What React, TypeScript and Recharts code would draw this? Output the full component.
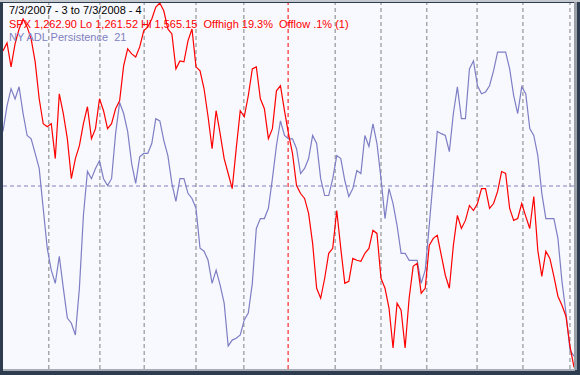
import React from 'react';
import { LineChart, Line, XAxis, YAxis, ReferenceLine } from 'recharts';

// SPX closes, sampled about every second trading day, 7/3/2007 .. 7/3/2008
const spx = [
  1525.4, 1532.0, 1512.2, 1531.2, 1543.6, 1551.9, 1545.3, 1535.3, 1516.3, 1485.7,
  1465.0, 1462.5, 1465.0, 1436.1, 1489.8, 1473.3, 1452.6, 1419.5, 1436.1, 1446.8,
  1465.0, 1479.1, 1452.6, 1460.9, 1485.7, 1475.8, 1460.9, 1465.0, 1477.4, 1484.0,
  1513.0, 1527.1, 1522.9, 1520.4, 1528.7, 1542.0, 1545.3, 1551.9, 1561.8, 1565.15,
  1558.5, 1543.6, 1539.5, 1510.5, 1517.1, 1516.3, 1533.7, 1543.6, 1512.2, 1508.9,
  1494.0, 1470.8, 1444.3, 1475.8, 1456.7, 1436.1, 1423.7, 1411.2, 1444.3, 1475.8,
  1470.8, 1488.2, 1510.5, 1512.2, 1485.7, 1477.4, 1452.6, 1460.9, 1492.3, 1496.5,
  1475.8, 1456.7, 1440.2, 1413.7, 1407.1, 1403.0, 1390.6, 1365.7, 1328.5, 1320.2,
  1336.8, 1357.5, 1361.6, 1393.0, 1361.6, 1332.6, 1334.3, 1353.3, 1351.7, 1350.8,
  1357.5, 1361.6, 1376.5, 1374.0, 1336.8, 1328.5, 1312.0, 1278.9, 1316.1, 1310.3,
  1278.9, 1320.2, 1346.7, 1349.2, 1324.4, 1328.5, 1364.1, 1369.9, 1372.4, 1355.8,
  1339.3, 1328.5, 1364.1, 1388.9, 1378.1, 1384.8, 1397.2, 1393.0, 1398.8, 1411.2,
  1411.2, 1394.7, 1398.8, 1408.8, 1425.3, 1423.7, 1394.7, 1384.8, 1386.4, 1398.8,
  1388.1, 1378.1, 1404.6, 1359.9, 1338.4, 1359.1, 1353.3, 1338.4, 1321.9, 1314.4,
  1305.3, 1280.5, 1262.9,
];

// NY ADL Persistence 21
const persistence = [
  64.9, 71.9, 76.6, 73.8, 77.1, 69.8, 63.8, 62.9, 58.9, 54.8,
  43.9, 33.0, 27.0, 23.4, 30.8, 22.1, 13.9, 12.5, 9.3, 22.1,
  42.0, 54.0, 52.0, 54.8, 56.9, 52.0, 50.1, 52.0, 64.3, 72.8,
  69.8, 64.9, 56.1, 50.7, 58.0, 58.9, 58.9, 61.6, 68.4, 67.8,
  62.4, 58.3, 50.7, 45.8, 52.0, 52.0, 48.0, 46.6, 43.9, 33.0,
  32.2, 29.7, 23.4, 27.0, 22.9, 18.0, 6.3, 7.9, 8.4, 9.3,
  13.4, 15.3, 23.4, 38.4, 41.1, 41.1, 43.9, 52.0, 61.0, 67.8,
  63.8, 62.9, 62.9, 60.2, 53.4, 54.8, 57.5, 63.8, 61.6, 52.0,
  47.4, 47.4, 52.0, 58.3, 57.5, 51.5, 47.1, 49.3, 54.2, 53.4,
  63.8, 60.8, 67.0, 61.6, 52.0, 41.1, 49.3, 45.2, 39.2, 31.6,
  31.6, 29.7, 29.7, 29.7, 23.4, 27.0, 39.2, 52.0, 64.9, 64.3,
  63.8, 59.4, 69.8, 77.1, 68.4, 68.4, 82.0, 84.2, 77.4, 75.2,
  75.7, 77.4, 81.5, 86.6, 86.6, 86.6, 82.0, 74.7, 69.8, 77.1,
  75.2, 65.7, 63.8, 58.3, 48.0, 41.1, 41.1, 41.1, 35.7, 24.0,
  15.3, 5.2, 3.5,
];

// first sample of each month (fractional sample index)
const monthStarts = [
  { m: 'Aug', at: 11.4 },
  { m: 'Sep', at: 24.1 },
  { m: 'Oct', at: 35.1 },
  { m: 'Nov', at: 48.0 },
  { m: 'Dec', at: 59.9 },
  { m: 'Jan', at: 70.9, newYear: true },
  { m: 'Feb', at: 82.6 },
  { m: 'Mar', at: 94.0 },
  { m: 'Apr', at: 105.4 },
  { m: 'May', at: 117.9 },
  { m: 'Jun', at: 129.3 },
  { m: 'Jul', at: 141.0 },
];

const spxLo = 1261.52;
const spxHi = 1565.15;

const data = spx.map((v, i) => ({ i, spx: v, adl: persistence[i] }));

const txt: React.CSSProperties = {
  position: 'absolute',
  left: 6,
  fontFamily: '"Liberation Sans", Arial, sans-serif',
  fontSize: 11,
  whiteSpace: 'pre',
  lineHeight: '13px',
};

export default function App() {
  return (
    <div style={{ position: 'absolute', left: 0, top: 0, width: 580, height: 375, background: '#2e3c50', overflow: 'hidden' }}>
      <div style={{ position: 'absolute', left: 0, top: 0, width: 580, height: 2, background: '#c4c8cf' }} />
      <div style={{ position: 'absolute', left: 574, top: 2, width: 3, height: 368, background: '#9a9ea6' }} />
      <div style={{ position: 'absolute', left: 3, top: 369, width: 572, height: 2, background: '#a8acb4' }} />
      <div style={{ position: 'absolute', left: 3, top: 3, width: 571, height: 366, background: '#f8f9fe' }}>
        <LineChart width={571} height={366} data={data} margin={{ top: 0, right: 0, bottom: 0, left: 0 }}>
          <XAxis dataKey="i" type="number" domain={[0, spx.length - 1]} hide />
          <YAxis yAxisId="spx" domain={[spxLo, spxHi]} hide />
          <YAxis yAxisId="adl" domain={[0, 100]} hide />
          {monthStarts.map((d) => (
            <ReferenceLine
              key={d.m}
              yAxisId="spx"
              x={d.at}
              stroke={d.newYear ? '#ff0000' : '#808080'}
              strokeDasharray="4 3"
            />
          ))}
          <ReferenceLine yAxisId="adl" y={50} stroke="#8080c0" strokeDasharray="4 3" />
          <Line yAxisId="adl" type="linear" dataKey="adl" stroke="#7e7ec4" strokeWidth={1.2} dot={false} isAnimationActive={false} />
          <Line yAxisId="spx" type="linear" dataKey="spx" stroke="#ff0000" strokeWidth={1.2} dot={false} isAnimationActive={false} />
        </LineChart>
        <div style={{ ...txt, top: 1, color: '#000000' }}>7/3/2007 - 3 to 7/3/2008 - 4</div>
        <div style={{ ...txt, top: 15, color: '#ff0000' }}>SPX 1,262.90 Lo 1,261.52 Hi 1,565.15  Offhigh 19.3%  Offlow .1% (1)</div>
        <div style={{ ...txt, top: 28, color: '#8080c0' }}>NY ADL Persistence  21</div>
      </div>
    </div>
  );
}
